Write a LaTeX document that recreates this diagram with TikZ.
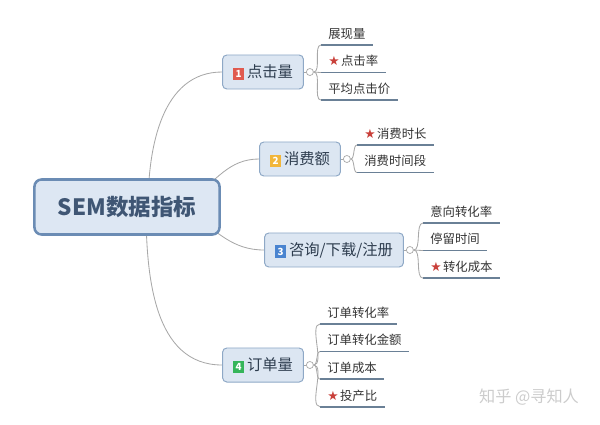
\documentclass[tikz,border=0pt]{standalone}
\usepackage{fontspec}
\usepackage{tikz}
\usetikzlibrary{positioning,backgrounds,shapes}
\usepackage{xcolor}
\newfontfamily\cjk{Noto Sans CJK SC}
\newfontfamily\symb{DejaVu Sans}
\definecolor{mainfill}{HTML}{DDE7F3}
\definecolor{maindraw}{HTML}{6B8CB4}
\definecolor{maintext}{HTML}{3F5674}
\definecolor{boxfill}{HTML}{DCE6F2}
\definecolor{boxdraw}{HTML}{8EA8C6}
\definecolor{branchtext}{HTML}{2E3D4F}
\definecolor{leaftext}{HTML}{333333}
\definecolor{leafline}{HTML}{6A8096}
\definecolor{linkgray}{HTML}{A8A8A8}
\definecolor{starred}{HTML}{C9403A}
\definecolor{tagred}{HTML}{E05A4F}
\definecolor{tagyellow}{HTML}{F2B63A}
\definecolor{tagblue}{HTML}{4A84D0}
\definecolor{taggreen}{HTML}{35B55A}
% 序号小方块和星标
\newcommand{\tagno}[2]{{\setlength{\fboxsep}{1.7pt}\colorbox{#1}{\color{white}\fontsize{7}{7}\selectfont\bfseries\makebox[4.6pt]{#2}}}\hspace{2pt}}
\newcommand{\hot}{{\color{starred}\symb\fontsize{9}{9}\selectfont ★}\hspace{1pt}}

\begin{document}
\begin{tikzpicture}[x=0.025cm,y=0.025cm]
	% 定义思维导图各部分样式
	\tikzstyle{root} = [rectangle, rounded corners=5pt, fill=mainfill, draw=maindraw, line width=1.8pt, minimum width=4.625cm, minimum height=1.375cm, text=maintext, font=\cjk\bfseries\fontsize{16}{18}\selectfont]	% 中心主题
	\tikzstyle{branch} = [rectangle, rounded corners=3pt, fill=boxfill, draw=boxdraw, line width=0.7pt, minimum height=0.85cm, inner xsep=0.26cm, text=branchtext, font=\cjk\fontsize{10.9}{12}\selectfont]	% 分支主题
	\tikzstyle{knob} = [circle, fill=white, draw=linkgray, line width=0.5pt, inner sep=0pt, minimum size=5pt]	% 折叠小圆圈
	\tikzstyle{leaf} = [anchor=south west, inner xsep=5pt, inner ysep=1pt, text height=13.7pt, text depth=3.5pt, text=leaftext, font=\cjk\fontsize{8.8}{10}\selectfont]	% 子主题
	\tikzstyle{bar} = [draw=leafline, line width=1.3pt]	% 子主题下划线
	\tikzstyle{link} = [draw=linkgray, line width=0.6pt]	% 连线
	\tikzstyle{brace} = [link, out=0, in=180, looseness=0.7]	% 子主题弯线
	\useasboundingbox (0,0) rectangle (600,424);
	\node (main) [root] at (127,217) {SEM数据指标};
	\node (b1) [branch] at (263,352) {\tagno{tagred}{1}点击量};
	\node (b2) [branch] at (300,265) {\tagno{tagyellow}{2}消费额};
	\node (b3) [branch] at (334,174) {\tagno{tagblue}{3}咨询/下载/注册};
	\node (b4) [branch] at (263,59) {\tagno{taggreen}{4}订单量};
	\node (k1) [knob, right=1.5pt of b1] {};
	\node (k2) [knob, right=1.5pt of b2] {};
	\node (k3) [knob, right=1.5pt of b3] {};
	\node (k4) [knob, right=1.5pt of b4] {};
	% 子主题
	\node (l11) [leaf] at (321,379) {展现量};
	\node (l12) [leaf, below=0pt of l11.south west, anchor=north west] {\hot 点击率};
	\node (l13) [leaf, below=0pt of l12.south west, anchor=north west] {平均点击价};
	\node (l21) [leaf] at (357,279) {\hot 消费时长};
	\node (l22) [leaf, below=0pt of l21.south west, anchor=north west] {消费时间段};
	\node (l31) [leaf] at (423,201) {意向转化率};
	\node (l32) [leaf, below=0pt of l31.south west, anchor=north west] {停留时间};
	\node (l33) [leaf, below=0pt of l32.south west, anchor=north west] {\hot 转化成本};
	\node (l41) [leaf] at (320,100) {订单转化率};
	\node (l42) [leaf, below=0pt of l41.south west, anchor=north west] {订单转化金额};
	\node (l43) [leaf, below=0pt of l42.south west, anchor=north west] {订单成本};
	\node (l44) [leaf, below=0pt of l43.south west, anchor=north west] {\hot 投产比};
	\node (mark) [text=gray!40, font=\cjk\fontsize{11.5}{13}\selectfont] at (529,27) {知乎 @寻知人};
	\foreach \n in {l11,l12,l13,l21,l22,l31,l32,l33,l41,l42,l43,l44}
		\draw [bar] (\n.south west) -- (\n.south east);
	
	% 连接中心主题和分支
	\begin{scope}[on background layer]
		\draw [link] ([xshift=0.525cm]main.center) to[out=90,in=180] (b1.west);
		\draw [link] ([xshift=1.6cm,yshift=0.2cm]main.center) to[out=35,in=180] (b2.west);
		\draw [link] ([xshift=1.6cm,yshift=-0.15cm]main.center) to[out=-35,in=180] (b3.west);
		\draw [link] ([xshift=0.475cm]main.center) to[out=-90,in=180] (b4.west);
	\end{scope}
	% 连接分支和子主题
	\draw [link] (b1.east) -- (k1);
	\draw [brace] (k1.east) to (l11.south west);
	\draw [link] (k1.east) -- (l12.south west);
	\draw [brace] (k1.east) to (l13.south west);
	\draw [link] (b2.east) -- (k2);
	\draw [brace] (k2.east) to (l21.south west);
	\draw [brace] (k2.east) to (l22.south west);
	\draw [link] (b3.east) -- (k3);
	\draw [brace] (k3.east) to (l31.south west);
	\draw [link] (k3.east) -- (l32.south west);
	\draw [brace] (k3.east) to (l33.south west);
	\draw [link] (b4.east) -- (k4);
	\draw [brace] (k4.east) to (l41.south west);
	\draw [brace] (k4.east) to (l42.south west);
	\draw [brace] (k4.east) to (l43.south west);
	\draw [brace] (k4.east) to (l44.south west);
\end{tikzpicture}
\end{document}
